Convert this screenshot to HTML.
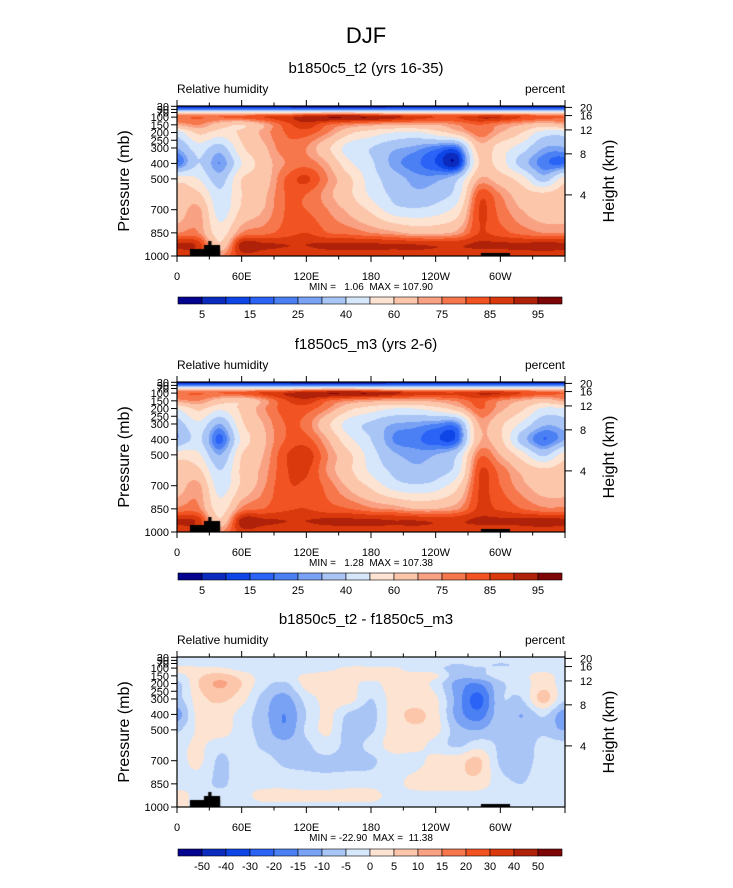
<!DOCTYPE html>
<html><head><meta charset="utf-8">
<style>
html,body{margin:0;padding:0;background:#fff;}
#wrap{position:relative;width:733px;height:888px;overflow:hidden;font-family:"Liberation Sans",sans-serif;}
canvas{position:absolute;}
svg{position:absolute;left:0;top:0;}
text{white-space:pre;}
</style></head>
<body>
<div id="wrap">
<canvas id="c0" width="388" height="150" style="left:177px;top:106px"></canvas>
<canvas id="c1" width="388" height="150" style="left:177px;top:382px"></canvas>
<canvas id="c2" width="388" height="150" style="left:177px;top:657px"></canvas>
<svg id="ov" width="733" height="888"></svg>
</div>
<script>
// ---- data ----
const lons = [0,20,40,60,80,100,120,140,160,180,200,220,240,260,280,300,320,340,360];
const pressures = [28,55,80,100,150,200,300,400,500,600,700,850,925,1000];
const absLevels = [5,10,15,20,25,30,40,50,60,70,75,80,85,90,95];
const absLabels = ["5","15","25","40","60","75","85","95"];
const diffLevels = [-50,-40,-30,-20,-15,-10,-5,0,5,10,15,20,30,40,50];
const diffLabels = ["-50","-40","-30","-20","-15","-10","-5","0","5","10","15","20","30","40","50"];
const palette = ['#03038f','#0a2bbd','#0d45e6','#2a63f6','#4b80f4','#79a2f4','#a9c5f6','#d6e6fb','#fde4d2','#fcc6ab','#f9a183','#f7774c','#f25322','#d9390c','#b0210a','#7d0505'];
const xTickLabels = ["0","60E","120E","180","120W","60W"];
const pTickValues = [30,50,70,100,150,200,250,300,400,500,700,850,1000];
const hTickLabels = ["20","16","12","8","4"];
const hTickPressure = [37,90,183,338,604];

const rh1 = [
[3,3,3,3,3,3,3,3,3,3,3,3,3,3,3,3,3,3,3],
[30,30,30,30,30,30,30,30,30,30,30,30,30,30,30,30,30,30,30],
[70,70,70,70,72,74,76,78,78,76,74,72,72,72,74,74,72,70,70],
[80,80,80,82,85,88,92,95,95,95,92,88,85,85,90,90,85,82,80],
[70,75,65,60,70,82,88,80,75,72,70,70,70,75,80,75,70,65,70],
[45,62,55,62,72,80,82,75,62,55,50,48,55,65,78,70,60,45,45],
[30,45,35,58,68,78,75,62,45,40,32,28,22,20,65,55,45,30,30],
[20,40,25,50,65,75,78,70,52,42,28,22,15,8,60,55,35,22,20],
[55,50,35,60,65,80,86,75,62,45,35,28,28,38,70,65,55,35,55],
[65,62,42,60,68,80,80,72,62,48,38,32,35,45,82,75,65,62,65],
[65,72,45,62,70,80,80,75,68,58,45,42,45,55,85,78,70,65,65],
[75,75,55,75,78,82,85,80,78,75,72,68,68,72,85,82,78,75,75],
[91,88,62,92,91,90,90,91,91,91,90,90,89,89,91,91,91,92,91],
[86,86,75,88,87,87,87,87,87,87,87,87,87,87,87,87,87,87,86]];

const rh2 = [
[3,3,3,3,3,3,3,3,3,3,3,3,3,3,3,3,3,3,3],
[30,30,30,30,30,30,30,30,30,30,30,30,30,30,30,30,30,30,30],
[70,70,70,70,72,74,76,78,78,76,74,72,72,72,74,74,72,70,70],
[80,80,80,82,86,90,93,95,95,95,92,88,86,86,90,90,85,82,80],
[72,75,65,62,72,84,88,80,75,72,70,70,72,76,82,75,70,65,72],
[50,62,52,62,74,82,82,75,62,55,50,50,55,65,80,72,62,48,50],
[35,48,30,58,70,80,78,62,45,38,30,28,25,25,70,62,48,32,35],
[30,42,18,52,68,80,82,70,52,40,25,22,16,18,68,62,35,20,30],
[55,52,30,60,70,84,88,75,62,45,32,28,30,40,78,70,55,38,55],
[65,62,40,62,72,84,86,74,62,48,38,32,35,45,84,78,68,62,65],
[66,72,45,62,74,84,84,78,68,58,46,42,45,58,85,80,72,66,66],
[76,76,55,76,80,84,85,82,80,76,74,70,70,74,86,84,80,76,76],
[91,88,62,92,91,90,90,91,91,91,90,90,89,89,91,91,91,92,91],
[86,86,75,88,87,87,87,87,87,87,87,87,87,87,87,87,87,87,86]];

const rhDiff = [
[-3,-3,-3,-3,-3,-3,-3,-3,-3,-3,-3,-3,-3,-3,-3,-3,-3,-3,-3],
[-3,-3,-3,-3,-3,-3,-3,-3,-3,-3,-3,-3,-3,-3,-3,-3,-3,-3,-3],
[-2,-2,-2,-2,-2,-2,-2,-2,-2,-2,-2,-2,-2,-6,-3,-6,-3,-2,-2],
[2,2,1,-2,-2,-3,-3,-2,2,2,1,-2,-3,-8,-6,-3,-3,-3,-2],
[-2,4,7,3,-2,-2,1,3,3,3,1,2,1,-8,-7,-3,-2,3,-3],
[-6,5,11,5,-3,-6,2,4,2,-2,3,3,-2,-12,-15,-6,-3,3,-2],
[-6,3,6,2,-7,-12,-3,2,2,-5,2,3,1,-12,-22,-6,-5,7,-4],
[-12,2,3,-2,-8,-15,-5,1,-6,-7,2,6,2,-12,-18,-7,-10,-4,-12],
[-6,1,3,-3,-7,-14,-4,1,-8,-6,2,4,2,-8,-10,-6,-8,-6,-10],
[-2,1,-3,-2,-6,-8,-6,-2,-7,-3,2,2,-2,-6,-2,-6,-8,-3,-3],
[-2,1,-6,-2,-3,-6,-6,-6,-7,-6,-2,-2,2,3,6,-6,-7,-3,-2],
[-2,-2,-6,-2,-2,-2,-3,-3,-2,-2,-2,2,3,3,3,-3,-5,-2,-2],
[2,-2,-3,-2,2,2,2,2,2,2,-2,-2,-2,-2,-2,-3,-2,-2,-2],
[2,-2,-2,-2,-2,-2,-2,-2,-2,-2,-2,-2,-2,-2,-2,-2,-2,-2,-2]];

// ---- geometry ----
const PX=177, PW=388, PH=150, PTOP=28, PBOT=1000;
const panelTops=[106,382,657];
function xOf(lon){return PX + lon/360*PW;}
function yOf(p,T){return T + (p-PTOP)/(PBOT-PTOP)*PH;}
function hexRgb(h){return [parseInt(h.substr(1,2),16),parseInt(h.substr(3,2),16),parseInt(h.substr(5,2),16)];}
const palRgb = palette.map(hexRgb);
function bin(v,levels){let i=0;while(i<levels.length&&v>=levels[i])i++;return i;}
function cr(p0,p1,p2,p3,t){return 0.5*((2*p1)+(-p0+p2)*t+(2*p0-5*p1+4*p2-p3)*t*t+(-p0+3*p1-3*p2+p3)*t*t*t);}
function sample(grid,lon,p){
  let i=0;while(i<lons.length-2&&lon>lons[i+1])i++;
  let j=0;while(j<pressures.length-2&&p>pressures[j+1])j++;
  const tx=Math.min(1,Math.max(0,(lon-lons[i])/(lons[i+1]-lons[i])));
  const ty=Math.min(1,Math.max(0,(p-pressures[j])/(pressures[j+1]-pressures[j])));
  const n=lons.length, m=pressures.length;
  const ci=k=>{if(k<0)return k+n-1; if(k>n-1)return k-n+1; return k;};
  const rj=k=>Math.min(m-1,Math.max(0,k));
  const rows=[];
  for(let dj=-1;dj<=2;dj++){const r=grid[rj(j+dj)];
    rows.push(cr(r[ci(i-1)],r[i],r[i+1],r[ci(i+2)],tx));}
  return cr(rows[0],rows[1],rows[2],rows[3],ty);
}
function drawField(id,grid,levels){
  const cv=document.getElementById(id),ctx=cv.getContext('2d');
  const img=ctx.createImageData(PW,PH);
  for(let y=0;y<PH;y++){const p=PTOP+(y+0.5)/PH*(PBOT-PTOP);
    for(let x=0;x<PW;x++){const lon=(x+0.5)/PW*360;
      const c=palRgb[bin(sample(grid,lon,p),levels)];const k=(y*PW+x)*4;
      img.data[k]=c[0];img.data[k+1]=c[1];img.data[k+2]=c[2];img.data[k+3]=255;}}
  ctx.putImageData(img,0,0);
  ctx.fillStyle='#000';
  const bx=l=>l/360*PW;
  ctx.fillRect(bx(12),PH-7,bx(40)-bx(12),7);
  ctx.fillRect(bx(25),PH-11,bx(40)-bx(25),11);
  ctx.fillRect(bx(29),PH-15,bx(32)-bx(29),15);
  ctx.fillRect(bx(282),PH-3,bx(309)-bx(282),3);
}
drawField('c0',rh1,absLevels);
drawField('c1',rh2,absLevels);
drawField('c2',rhDiff,diffLevels);

// ---- overlay ----
const NS='http://www.w3.org/2000/svg', svg=document.getElementById('ov');
function mk(tag,attrs,parent){const e=document.createElementNS(NS,tag);for(const k in attrs)e.setAttribute(k,attrs[k]);(parent||svg).appendChild(e);return e;}
function txt(s,x,y,size,anchor,parent){const t=mk('text',{x:x,y:y,'font-size':size,'text-anchor':anchor||'middle',fill:'#000','font-family':'Liberation Sans, sans-serif'},parent);t.textContent=s;return t;}

let t=txt('DJF',366,43,22);



const titles=['b1850c5_t2 (yrs 16-35)','f1850c5_m3 (yrs 2-6)','b1850c5_t2 - f1850c5_m3'];
const minmax=['MIN =   1.06  MAX = 107.90','MIN =   1.28  MAX = 107.38','MIN = -22.90  MAX =  11.38'];
const panelNames=['panel-b1850c5-t2','panel-f1850c5-m3','panel-difference'];
const cbTops=[297,573,849];

panelTops.forEach((T,k)=>{
  const g=mk('g',{});
  
  
  let e=txt(titles[k],366,T-33,15,'middle',g);
  
  
  e=txt('Relative humidity',177,T-13,12,'start',g);
  
  
  e=txt('percent',565,T-13,12,'end',g);
  
  
  e=mk('rect',{x:PX,y:T,width:PW,height:PH,fill:'none',stroke:'#000','stroke-width':1.2},g);
  
  
  for(let lon=0;lon<=360;lon+=30){
    const x=xOf(lon),len=(lon%60===0)?6:3.5;
    mk('line',{x1:x,y1:T+PH,x2:x,y2:T+PH+len,stroke:'#000','stroke-width':1},g);
    mk('line',{x1:x,y1:T,x2:x,y2:T-len,stroke:'#000','stroke-width':1},g);
  }
  xTickLabels.forEach((s,i)=>{e=txt(s,xOf(i*60),T+PH+24,11,'middle',g);
    
    });
  e=txt(minmax[k],371,T+PH+34,10,'middle',g);
  
  
  pTickValues.forEach(p=>{const y=yOf(p,T);
    mk('line',{x1:PX,y1:y,x2:PX-6,y2:y,stroke:'#000','stroke-width':1},g);
    e=txt(String(p),169,y+4,11,'end',g);
    
    });
  e=txt('Pressure (mb)',0,0,16,'middle',g);
  e.setAttribute('transform','translate(129,'+(T+PH/2)+') rotate(-90)');
  
  
  hTickLabels.forEach((s,i)=>{const y=yOf(hTickPressure[i],T);
    mk('line',{x1:PX+PW,y1:y,x2:PX+PW+7,y2:y,stroke:'#000','stroke-width':1},g);
    e=txt(s,580,y+4,11,'start',g);
    
    });
  e=txt('Height (km)',0,0,16,'middle',g);
  e.setAttribute('transform','translate(614,'+(T+PH/2)+') rotate(-90)');
  
  
  const cb=mk('g',{},g);
  
  
  const cy=cbTops[k],bw=24;
  palette.forEach((c,i)=>{const r=mk('rect',{x:178+i*bw,y:cy,width:bw,height:7,fill:c,stroke:'#000','stroke-width':0.6},cb);
    
    });
  if(k<2){absLabels.forEach((s,i)=>{e=txt(s,178+bw*(2*i+1),cy+21,11,'middle',cb);
      
      });}
  else{diffLabels.forEach((s,i)=>{e=txt(s,178+bw*(i+1),cy+21,11,'middle',cb);
      
      });}
});
</script>
</body></html>
